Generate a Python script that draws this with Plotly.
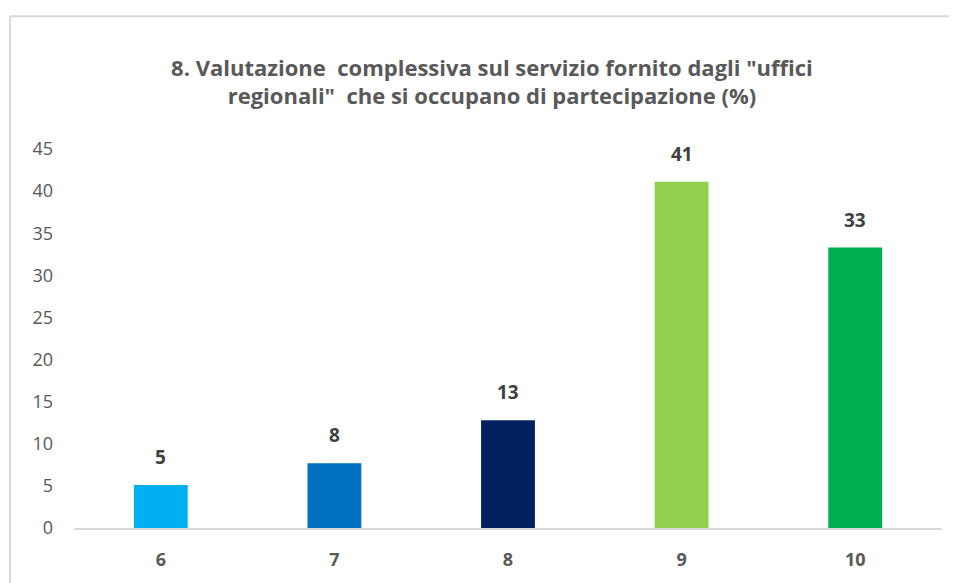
import plotly.graph_objects as go

# dati
punteggi = ['6', '7', '8', '9', '10']
percentuali = [5.1, 7.7, 12.8, 41.1, 33.3]
etichette = ['5', '8', '13', '41', '33']
colori = ['#00B0F0', '#0070C0', '#002060', '#92D050', '#00B050']

titolo = ('8. Valutazione  complessiva sul servizio fornito dagli "uffici<br>'
          'regionali"  che si occupano di partecipazione (%)')

fig = go.Figure(go.Bar(
    x=punteggi,
    y=percentuali,
    marker=dict(color=colori, line=dict(width=0)),
    width=0.31,
))

# etichette sopra le barre (x = indice della categoria)
for i, (val, lab) in enumerate(zip(percentuali, etichette)):
    fig.add_annotation(x=i, y=val, text=lab, showarrow=False,
                       yanchor='bottom', yshift=13,
                       font=dict(family='Open Sans', size=19, color='#404040', weight='bold'))

# la pagina html ha 8px di margine: figura ridotta di 8px
fig.update_layout(
    width=949, height=575,
    margin=dict(l=66, r=15, t=141, b=47),
    paper_bgcolor='white', plot_bgcolor='white',
    showlegend=False,
    title=dict(text=titolo, x=0.51, xanchor='center', y=0.882, yanchor='middle',
               font=dict(family='Open Sans', size=22, color='#595959', weight='bold')),
    xaxis=dict(type='category', showline=True, linecolor='#D9D9D9', linewidth=2,
               tickfont=dict(family='Open Sans', size=18, color='#595959', weight='bold'),
               ticklabelstandoff=14, showgrid=False),
    yaxis=dict(range=[0, 45], dtick=5, showgrid=False, zeroline=False,
               tickfont=dict(family='Open Sans', size=18, color='#595959'),
               ticklabelstandoff=20),
    shapes=[
        dict(type='line', xref='paper', yref='paper', x0=-0.0737, x1=-0.0737,
             y0=-0.15, y1=1.35, line=dict(color='#D9D9D9', width=2)),
        dict(type='line', xref='paper', yref='paper', x0=-0.0737, x1=1.017,
             y0=1.35, y1=1.35, line=dict(color='#D9D9D9', width=2)),
    ],
)

fig.write_html("out.html")
